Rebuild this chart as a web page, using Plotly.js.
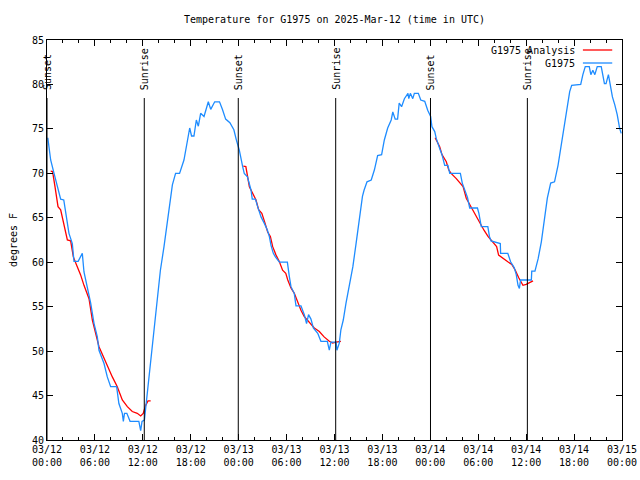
<!DOCTYPE html>
<html>
<head>
<meta charset="utf-8">
<script src="https://cdn.plot.ly/plotly-3.0.1.min.js"></script>
<style>html,body{margin:0;padding:0;background:#fff;}#chart{width:640px;height:480px;}</style>
</head>
<body>
<div id="chart"></div>
<script>
// Hours since 2025-03-12 00:00 UTC
const obsHours = [0.1,0.46,0.88,1.29,1.71,2.1,2.34,2.75,3.17,3.38,3.9,4.42,4.63,5.05,5.47,5.89,6.3,6.51,7.14,7.55,7.97,8.72,9.0,9.43,9.56,9.7,10.0,10.4,11.5,11.73,11.9,12.2,12.56,12.98,13.4,13.8,14.2,14.65,15.07,15.49,15.7,16.1,16.6,17.15,17.57,17.87,18.1,18.4,18.7,18.95,19.24,19.66,20.2,20.5,21.0,21.6,21.96,22.37,22.9,23.4,23.7,24.08,24.5,24.7,25.1,25.55,25.7,26.1,26.38,26.8,27.2,27.6,27.84,28.05,28.34,28.6,29.1,30.1,30.34,30.55,30.96,31.18,31.8,32.22,32.5,32.75,33.05,33.35,33.9,34.3,35.1,35.35,35.55,36.2,36.3,36.6,36.8,37.1,37.44,37.85,38.3,38.7,39.1,39.5,39.7,40.07,40.6,41.0,41.4,41.9,42.24,42.66,43.1,43.3,43.6,43.9,44.1,44.4,44.75,45.2,45.3,45.5,45.8,46.0,46.5,46.8,47.3,47.67,48.04,48.2,48.55,48.75,49.17,49.46,49.8,50.2,50.43,51.76,52.0,52.4,52.65,52.93,53.9,54.08,54.38,55.2,55.4,55.6,56.76,56.8,57.7,58.05,58.5,58.76,58.98,59.15,59.3,60.65,60.7,61.1,61.5,61.9,62.3,62.65,63.07,63.55,63.99,64.4,64.83,65.15,65.45,65.7,66.83,67.1,67.4,67.9,68.1,68.35,68.6,68.9,69.4,69.8,70.0,70.3,70.5,70.8,71.1,71.4,71.7,71.9];
const obsTemp = [74.0,71.5,70.0,68.5,67.1,67.0,65.5,63.25,62.1,60.1,60.1,61.0,58.9,57.25,55.4,53.1,51.6,50.1,48.6,47.1,46.0,46.0,44.1,43.0,42.1,43.0,43.0,42.1,42.1,41.05,42.1,42.25,45.25,49.4,52.4,55.75,59.1,61.75,64.4,67.4,68.7,70.0,70.0,71.5,73.4,75.1,74.2,74.2,76.0,75.3,76.75,76.4,78.05,77.2,78.05,78.05,77.2,76.1,75.7,74.9,73.8,72.6,70.75,70.0,69.6,68.1,67.1,67.1,66.25,65.1,64.4,63.6,62.9,61.9,61.0,60.6,60.0,60.0,58.4,57.25,56.5,55.1,55.1,54.1,53.1,54.1,53.6,52.6,52.0,51.1,51.1,50.1,51.0,51.0,50.1,50.9,52.4,53.5,55.4,57.25,59.5,62.1,65.1,67.4,68.1,69.05,69.25,70.4,72.0,72.1,73.75,75.1,76.0,76.9,76.1,76.1,77.9,77.5,78.4,79.0,78.4,79.0,78.4,79.0,79.0,78.25,78.1,77.1,76.4,75.25,74.7,73.9,72.8,72.1,70.9,70.9,70.0,70.0,68.9,67.9,67.3,66.1,66.1,65.5,64.0,64.0,62.9,62.4,62.1,61.0,61.0,60.05,59.4,58.6,57.4,57.05,58.0,58.0,59.0,59.0,60.4,62.3,64.9,67.2,68.9,69.05,70.9,73.2,75.6,77.7,79.2,79.9,80.0,81.1,82.0,82.0,81.1,81.6,81.1,82.0,82.0,80.1,80.1,81.1,80.0,78.6,77.7,76.6,75.1,74.5];

const anaHours = [0.46,0.7,1.0,1.38,1.71,2.13,2.55,2.96,3.3,3.7,4.2,4.63,5.26,5.68,6.1,6.51,7.05,7.64,8.18,8.8,9.43,10.06,10.68,11.3,11.73,12.05,12.35,12.65,12.98,
  18.0,
  24.58,24.9,25.34,25.75,26.17,26.5,26.9,27.3,27.63,27.97,28.26,28.68,29.1,29.5,29.9,30.15,30.55,30.97,31.4,31.8,32.2,32.6,33.0,33.47,34.1,34.7,35.35,35.77,36.2,36.8,
  42.0,
  48.6,49.17,49.46,50.0,50.3,50.6,51.25,51.65,52.1,52.5,52.93,53.35,53.9,54.3,54.72,55.22,55.85,56.3,56.55,57.1,57.7,58.2,58.64,59.07,59.6,60.0,60.44,60.86];
const anaTemp = [70.25,70.2,68.5,66.25,65.9,64.0,62.5,62.4,60.6,59.7,58.6,57.4,55.9,53.5,52.1,50.5,49.4,48.1,47.1,46.0,44.5,43.75,43.2,43.0,42.7,43.0,43.9,44.4,44.4,
  null,
  70.8,70.75,68.5,67.8,67.0,65.9,65.5,64.4,63.4,62.9,61.75,60.8,60.05,59.1,58.75,58.0,57.1,56.5,55.4,54.6,53.9,53.5,53.1,52.6,52.2,51.6,51.1,50.9,51.0,51.1,
  null,
  74.0,73.0,72.1,71.3,70.4,70.0,69.4,69.0,68.5,67.2,66.5,65.7,64.9,64.2,63.6,62.9,62.3,61.75,60.8,60.4,60.05,59.75,59.1,58.25,57.4,57.5,57.7,57.9];

const sunHours = [0, 12.18, 23.95, 36.15, 48.02, 60.15];
const sunLabels = ["Sunset","Sunrise","Sunset","Sunrise","Sunset","Sunrise"];

const tickHours = [0,6,12,18,24,30,36,42,48,54,60,66,72];
const tickLabels = ["03/12<br>00:00","03/12<br>06:00","03/12<br>12:00","03/12<br>18:00","03/13<br>00:00","03/13<br>06:00","03/13<br>12:00","03/13<br>18:00","03/14<br>00:00","03/14<br>06:00","03/14<br>12:00","03/14<br>18:00","03/15<br>00:00"];
const yTicks = [40,45,50,55,60,65,70,75,80,85];

const seriesNames = ["G1975 Analysis","G1975"];
const seriesColors = ["#ff0000","#1e8cff"];

const FONT = "DejaVu Sans Mono, Liberation Mono, monospace";

const traces = [
  {x: anaHours, y: anaTemp, mode: "lines", name: seriesNames[0], line: {color: seriesColors[0], width: 1.3}, connectgaps: false, showlegend: false},
  {x: obsHours, y: obsTemp, mode: "lines", name: seriesNames[1], line: {color: seriesColors[1], width: 1.3}, showlegend: false}
];

const shapes = [];
const annotations = [];
sunHours.forEach((h, i) => {
  shapes.push({type: "line", xref: "x", yref: "paper", x0: h, x1: h, y0: 0, y1: 0.855, line: {color: "#000", width: 1}});
  annotations.push({xref: "x", yref: "paper", x: h, y: 0.87, text: sunLabels[i], textangle: -90, showarrow: false, xanchor: "center", yanchor: "bottom", font: {family: FONT, size: 10, color: "#000"}});
});
// legend (gnuplot style: text then sample)
const legY = [0.975, 0.9425];
seriesNames.forEach((n, i) => {
  annotations.push({xref: "paper", yref: "paper", x: 0.922, y: legY[i], text: n, showarrow: false, xanchor: "right", yanchor: "middle", font: {family: FONT, size: 10, color: "#000"}});
  shapes.push({type: "line", xref: "paper", yref: "paper", x0: 0.932, x1: 0.983, y0: legY[i], y1: legY[i], line: {color: seriesColors[i], width: 1.3}});
});

const layout = {
  width: 640, height: 480,
  margin: {l: 47, r: 18, t: 40, b: 40, pad: 0},
  paper_bgcolor: "#fff", plot_bgcolor: "#fff",
  font: {family: FONT, size: 10, color: "#000"},
  title: {text: "Temperature for G1975 on 2025-Mar-12 (time in UTC)", x: 0.5, xref: "paper", y: 0.96, yanchor: "middle", font: {family: FONT, size: 10, color: "#000"}},
  xaxis: {
    range: [0, 72], tickmode: "array", tickvals: tickHours, ticktext: tickLabels,
    ticks: "inside", ticklen: 6, tickcolor: "#000", showline: true, linecolor: "#000", linewidth: 1, mirror: "ticks",
    showgrid: false, zeroline: false, tickfont: {family: FONT, size: 10},
    minor: {tickmode: "linear", tick0: 0, dtick: 2, ticks: "inside", ticklen: 3, tickcolor: "#000", showgrid: false}
  },
  yaxis: {
    range: [40, 85], tickmode: "array", tickvals: yTicks,
    ticks: "inside", ticklen: 6, tickcolor: "#000", showline: true, linecolor: "#000", linewidth: 1, mirror: "ticks",
    showgrid: false, zeroline: false, tickfont: {family: FONT, size: 10},
    title: {text: "degrees F", font: {family: FONT, size: 10}, standoff: 12}
  },
  shapes: shapes,
  annotations: annotations,
  showlegend: false
};

Plotly.newPlot("chart", traces, layout, {staticPlot: true, displayModeBar: false});
</script>
</body>
</html>
